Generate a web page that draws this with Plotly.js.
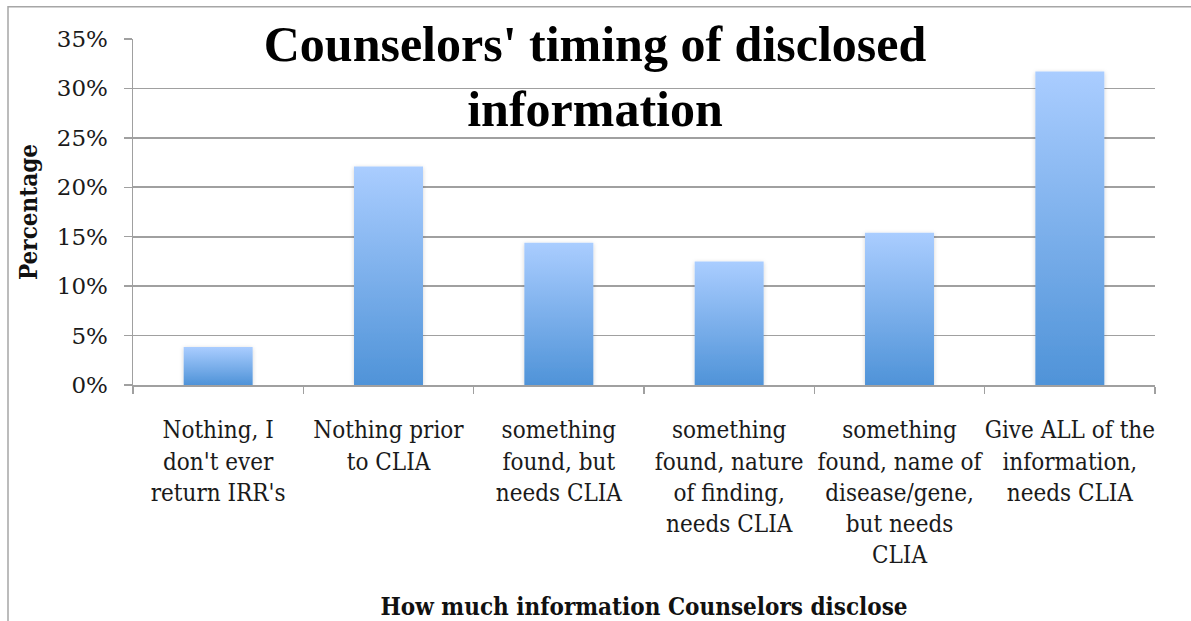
<!DOCTYPE html>
<html>
<head>
<meta charset="utf-8">
<script src="https://cdn.plot.ly/plotly-3.0.1.min.js"></script>
<style>
  html, body { margin: 0; padding: 0; background: #fff; }
  #chart { width: 1191px; height: 621px; }
</style>
</head>
<body>
<div id="chart"></div>
<script>
const categories = [
  "Nothing, I<br>don't ever<br>return IRR's",
  "Nothing prior<br>to CLIA",
  "something<br>found, but<br>needs CLIA",
  "something<br>found, nature<br>of finding,<br>needs CLIA",
  "something<br>found, name of<br>disease/gene,<br>but needs<br>CLIA",
  "Give ALL of the<br>information,<br>needs CLIA"
];
const percentages = [0.0385, 0.221, 0.144, 0.125, 0.154, 0.317];
const yTickValues = [0, 0.05, 0.10, 0.15, 0.20, 0.25, 0.30, 0.35];
const yTickLabels = ["0%", "5%", "10%", "15%", "20%", "25%", "30%", "35%"];
const chartTitle = "Counselors' timing of disclosed<br>information";
const xTitle = "How much information Counselors disclose";
const yTitle = "Percentage";

const gridColor = "#a0a0a0";
const tickFont = { family: "DejaVu Serif Condensed, DejaVu Serif, serif", size: 24, color: "#1a1a1a" };
const yTickFont = { family: "DejaVu Serif, serif", size: 23, color: "#1a1a1a" };
const xTitleFont = { family: "DejaVu Serif Condensed, DejaVu Serif, serif", size: 24, color: "#111", weight: "bold" };
const yTitleFont = { family: "DejaVu Serif Condensed, DejaVu Serif, serif", size: 24, color: "#111", weight: "bold" };

const trace = {
  type: "bar",
  x: categories,
  y: percentages,
  marker: { color: "#7fb1ea", line: { width: 0 } },
  hoverinfo: "skip"
};

const layout = {
  width: 1191,
  height: 621,
  paper_bgcolor: "#ffffff",
  plot_bgcolor: "#ffffff",
  margin: { l: 133, r: 36, t: 39, b: 235.5, pad: 0 },
  bargap: 0.595,
  showlegend: false,
  title: {
    text: chartTitle,
    font: { family: "Liberation Serif, serif", size: 50, color: "#000", weight: "bold" },
    x: 595 / 1191,
    xref: "container",
    xanchor: "center",
    y: 1 - 61 / 621,
    yref: "container",
    yanchor: "top"
  },
  xaxis: {
    type: "category",
    tickfont: tickFont,
    tickangle: 0,
    showline: true,
    linecolor: gridColor,
    linewidth: 1.5,
    ticks: "outside",
    tickson: "boundaries",
    ticklen: 7,
    tickwidth: 1.5,
    tickcolor: gridColor,
    showgrid: false,
    ticklabelstandoff: 23,
    automargin: false,
    title: { text: xTitle, font: xTitleFont, standoff: 31 }
  },
  yaxis: {
    range: [0, 0.35],
    tickvals: yTickValues,
    ticktext: yTickLabels,
    tickfont: yTickFont,
    showline: true,
    linecolor: gridColor,
    linewidth: 1.5,
    ticks: "outside",
    ticklen: 8,
    tickwidth: 1.5,
    tickcolor: gridColor,
    showgrid: true,
    gridcolor: gridColor,
    gridwidth: 1.6,
    zeroline: false,
    ticklabelstandoff: 11,
    automargin: false,
    title: { text: yTitle, font: yTitleFont, standoff: 12 }
  },
  shapes: [
    {
      type: "rect", xref: "paper", yref: "paper",
      x0: (8 - 133) / 1022, x1: 1.3,
      y0: -1.0, y1: (385.5 - 7) / 346.2,
      line: { color: "#a6a6a6", width: 1.5 },
      fillcolor: "rgba(0,0,0,0)",
      layer: "below"
    }
  ]
};

Plotly.newPlot("chart", [trace], layout, { staticPlot: true, displayModeBar: false }).then(function (gd) {
  const svgNS = "http://www.w3.org/2000/svg";
  const svg = gd.querySelector(".main-svg");
  let defs = svg.querySelector("defs");
  if (!defs) { defs = document.createElementNS(svgNS, "defs"); svg.insertBefore(defs, svg.firstChild); }
  const grad = document.createElementNS(svgNS, "linearGradient");
  grad.setAttribute("id", "barGrad");
  grad.setAttribute("x1", "0"); grad.setAttribute("y1", "0");
  grad.setAttribute("x2", "0"); grad.setAttribute("y2", "1");
  [["0%", "#aacdff"], ["100%", "#4f93d8"]].forEach(function (s) {
    const st = document.createElementNS(svgNS, "stop");
    st.setAttribute("offset", s[0]);
    st.setAttribute("stop-color", s[1]);
    grad.appendChild(st);
  });
  defs.appendChild(grad);
  const filt = document.createElementNS(svgNS, "filter");
  filt.setAttribute("id", "barShadow");
  filt.setAttribute("x", "-20%"); filt.setAttribute("y", "-20%");
  filt.setAttribute("width", "140%"); filt.setAttribute("height", "140%");
  const ds = document.createElementNS(svgNS, "feDropShadow");
  ds.setAttribute("dx", "0"); ds.setAttribute("dy", "1");
  ds.setAttribute("stdDeviation", "2");
  ds.setAttribute("flood-color", "#000");
  ds.setAttribute("flood-opacity", "0.18");
  filt.appendChild(ds);
  defs.appendChild(filt);
  gd.querySelectorAll(".trace.bars .point path").forEach(function (p) {
    p.style.fill = "url(#barGrad)";
    p.setAttribute("filter", "url(#barShadow)");
  });
});
</script>
</body>
</html>
